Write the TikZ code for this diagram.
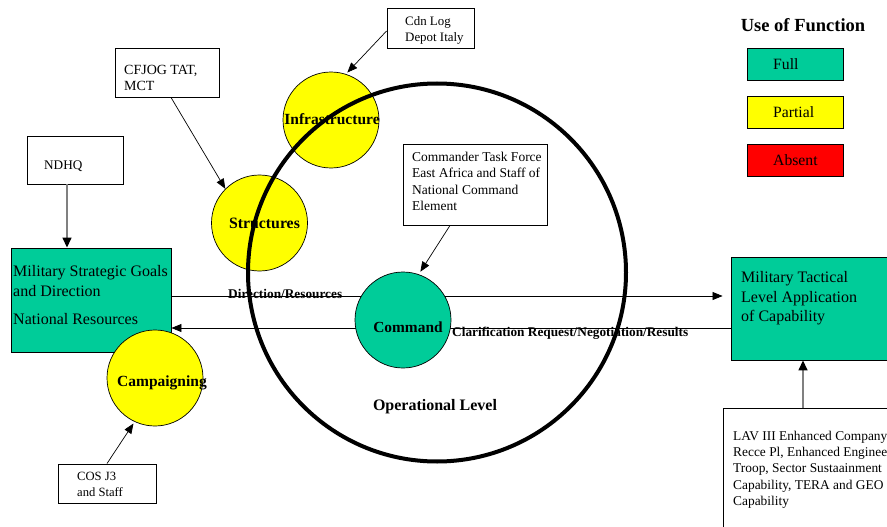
\documentclass[tikz,border=0pt]{standalone}
\usepackage{fontspec}
\setmainfont{Liberation Serif}
\usetikzlibrary{arrows.meta}
\definecolor{fullg}{HTML}{00CC99}
\definecolor{party}{HTML}{FFFF00}
\definecolor{absr}{HTML}{FF0000}
\definecolor{linegray}{HTML}{808080}
\begin{document}
\begin{tikzpicture}[x=1pt,y=-1pt,
  box/.style={draw=black,line width=0.9pt,rectangle,inner sep=0pt,fill=white},
  gbox/.style={box,fill=fullg},
  func/.style={draw=black,line width=0.7pt,circle,inner sep=0pt,minimum size=96pt},
  txt/.style={inner sep=0pt,anchor=west,align=left},
  ctr/.style={inner sep=0pt,font=\bfseries\fontsize{15.5}{17}\selectfont},
  arr/.style={line width=0.7pt,-{Triangle[length=10pt,width=8pt]}},
  garr/.style={line width=1.5pt,draw=linegray,-{Triangle[length=10pt,width=9pt,color=black]}},
  lbl/.style={inner sep=0pt,anchor=west,font=\bfseries\fontsize{13.3}{15}\selectfont}
]
\useasboundingbox (0,0) rectangle (887,527);
\fill[white] (0,0) rectangle (887,527);

% boxes
\node[box,minimum width=96pt,minimum height=48pt] (ndhq) at (75,160) {};
\node[txt,font=\fontsize{13.2}{15}\selectfont] (ndhqt) at (44,166) {NDHQ};

\node[gbox,minimum width=160pt,minimum height=104pt] (strat) at (91,300) {};
\node[txt,font=\fontsize{16}{20}\selectfont] (stratt) at (13,295) {Military Strategic Goals\\and Direction\\[8pt]National Resources};

\node[gbox,minimum width=166pt,minimum height=103pt] (tact) at (814,308.5) {};
\node[txt,font=\fontsize{16}{19.5}\selectfont] (tactt) at (741,298.5) {Military Tactical\\Level Application\\of Capability};

\node[box,minimum width=170pt,minimum height=130pt] (lav) at (808,473) {};
\node[txt,font=\fontsize{13.4}{16.3}\selectfont] (lavt) at (733,469.5) {LAV III Enhanced Company\\Recce Pl, Enhanced Engineer\\Troop, Sector Sustaainment\\Capability, TERA and GEO\\Capability};

\node[box,minimum width=144pt,minimum height=81pt] (cmdtf) at (475,184.5) {};
\node[txt,font=\fontsize{13.5}{16.3}\selectfont] (cmdtft) at (412,181.5) {Commander Task Force\\East Africa and Staff of\\National Command\\Element};

\node[box,minimum width=87pt,minimum height=40pt] (cdn) at (430.5,28) {};
\node[txt,font=\fontsize{12.9}{16}\selectfont] (cdnt) at (405,30) {Cdn Log\\Depot Italy};

\node[box,minimum width=104pt,minimum height=49pt] (cfjog) at (167,72.5) {};
\node[txt,font=\fontsize{14}{16}\selectfont] (cfjogt) at (124,78) {CFJOG TAT,\\MCT};

\node[box,minimum width=98pt,minimum height=39pt] (cos) at (107,483.5) {};
\node[txt,font=\fontsize{12.6}{16}\selectfont] (cost) at (77,484) {COS J3\\and Staff};

% legend
\node[inner sep=0pt,font=\bfseries\fontsize{18.5}{20}\selectfont] (legt) at (803,25) {Use of Function};
\node[box,fill=fullg,minimum width=96pt,minimum height=32pt] (lfull) at (795,64) {};
\node[txt,font=\fontsize{15.7}{17}\selectfont] (lfullt) at (773,64) {Full};
\node[box,fill=party,minimum width=96pt,minimum height=32pt] (lpart) at (795,112) {};
\node[txt,font=\fontsize{15.7}{17}\selectfont] (lpartt) at (773,112) {Partial};
\node[box,fill=absr,minimum width=96pt,minimum height=32pt] (labs) at (795,160) {};
\node[txt,font=\fontsize{15.7}{17}\selectfont] (labst) at (773,160) {Absent};

% horizontal connectors
\draw[arr,shorten >=8pt] ([yshift=4pt]strat.east) -- ([yshift=12.5pt]tact.west);
\draw[arr] ([yshift=-19.5pt]tact.west) -- ([yshift=-28pt]strat.east);

% function circles
\node[func,fill=party] (infra) at (331,120) {};
\node[ctr] (infrat) at (332,119) {Infrastructure};
\node[func,fill=party] (struct) at (259.5,223) {};
\node[ctr,font=\bfseries\fontsize{15.8}{17}\selectfont] (structt) at (264.5,223) {Structures};
\node[func,fill=party] (camp) at (155,378) {};
\node[ctr] (campt) at (162,383) {Campaigning};
\node[func,fill=fullg] (command) at (403,320) {};
\node[ctr,font=\bfseries\fontsize{15.4}{17}\selectfont] (commandt) at (408,327) {Command};

% operational level
\node[draw=black,line width=4pt,circle,inner sep=0pt,minimum size=378pt] (oplevel) at (437,272.5) {};
\node[ctr,font=\bfseries\fontsize{16}{18}\selectfont] (oplevelt) at (435,407) {Operational Level};

% labels on connectors
\node[lbl] (dirl) at (228,294) {Direction/Resources};
\node[lbl] (clarl) at (452,333) {Clarification Request/Negotiation/Results};

% other connectors
\draw[garr] ([xshift=-8pt]ndhq.south) -- ([xshift=-24pt]strat.north);
\draw[garr] ([xshift=-5pt]lav.north) -- ([xshift=-11pt]tact.south);
\draw[arr,shorten >=3pt] ([xshift=-25pt]cmdtf.south) -- (command.71);
\draw[arr,shorten >=2pt] ([yshift=-3pt]cdn.west) -- (infra.72);
\draw[arr] ([xshift=4pt]cfjog.south) -- (struct.135);
\draw[arr,shorten >=2pt] (cos.north) -- (camp.245);
\end{tikzpicture}
\end{document}
